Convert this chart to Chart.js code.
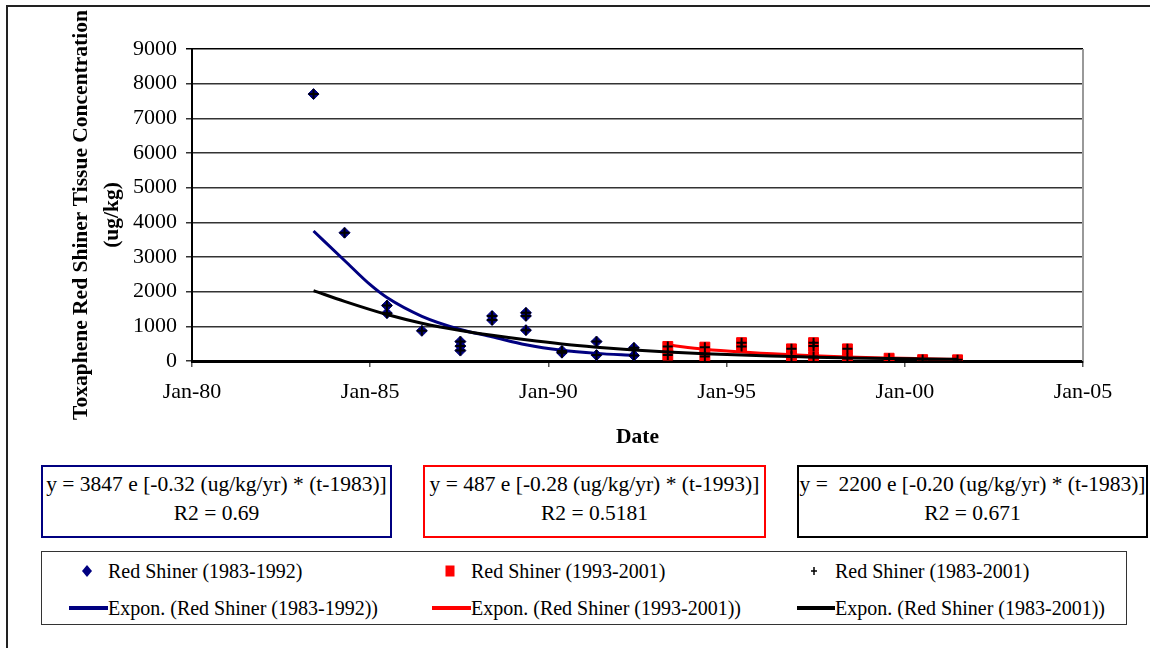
<!DOCTYPE html>
<html>
<head>
<meta charset="utf-8">
<script src="https://cdn.jsdelivr.net/npm/chart.js@4.4.1/dist/chart.umd.min.js"></script>
<style>
  body { margin: 0; background: #fff; font-family: "Liberation Serif", "Times New Roman", serif; }
  #page { position: relative; width: 1150px; height: 648px; overflow: hidden; }
  #frame { position: absolute; left: 6px; top: 5px; width: 1150px; height: 650px;
           border-top: 2px solid #222; border-left: 2px solid #222; }
  #chart { position: absolute; left: 0; top: 0; }
  .eq { position: absolute; top: 465px; height: 66px; text-align: center; font-size: 21.5px;
        line-height: 29px; padding-top: 3px; white-space: pre; color: #000; }
  #legend { position: absolute; left: 41px; top: 551px; width: 1084px; height: 72px;
            border: 1.5px solid #333; }
  .item { position: absolute; font-size: 20px; line-height: 24px; color: #000; white-space: pre; }
  .mk { position: absolute; }
</style>
</head>
<body>
<div id="page">
  <div id="frame"></div>
  <canvas id="chart" width="1150" height="460"></canvas>

  <div class="eq" style="left:41px; width:347px; border:2px solid #000080;">y = 3847 e [-0.32 (ug/kg/yr) * (t-1983)]
R2 = 0.69</div>
  <div class="eq" style="left:423px; width:339px; border:2px solid #ff0000;">y = 487 e [-0.28 (ug/kg/yr) * (t-1993)]
R2 = 0.5181</div>
  <div class="eq" style="left:797px; width:347px; border:2px solid #000;">y =  2200 e [-0.20 (ug/kg/yr) * (t-1983)]
R2 = 0.671</div>

  <div id="legend"></div>
</div>

<script>
// sample dates in decimal years, and measured concentrations (ug/kg)
const blueDates  = [1983.41, 1984.28, 1985.47, 1985.47, 1986.45, 1987.53, 1987.53, 1987.53,
                    1988.42, 1988.42, 1989.37, 1989.37, 1989.37, 1990.38, 1990.38,
                    1991.35, 1991.35, 1992.40, 1992.40];
const blueValues = [7700, 3700, 1600, 1380, 870, 560, 430, 300,
                    1300, 1180, 1390, 1300, 890, 290, 240,
                    560, 170, 380, 160];

const redDates  = [1993.35, 1993.35, 1994.39, 1994.39, 1995.42, 1995.42, 1996.82, 1996.82,
                   1997.44, 1997.44, 1997.44, 1998.39, 1998.39, 1999.56, 2000.50, 2001.48];
const redValues = [420, 170, 400, 130, 530, 420, 350, 140,
                   530, 430, 130, 350, 80, 80, 40, 35];

// trend curves
const blueTrendYears  = [1983.41, 1984.28, 1985.0, 1985.47, 1986.45, 1987.53, 1988.42, 1989.37, 1990.38, 1991.35, 1992.40];
const blueTrendValues = [3750, 2900, 2200, 1830, 1290, 910, 700, 470, 310, 220, 160];

const redTrendYears  = [1993.35, 1994.39, 1995.42, 1996.82, 1997.44, 1998.39, 1999.56, 2000.50, 2001.48];
const redTrendValues = [460, 340, 260, 180, 150, 115, 85, 65, 45];

const blackTrendYears  = [1983.41, 1984.28, 1985.47, 1986.45, 1987.53, 1988.42, 1989.37, 1990.38, 1991.35,
                          1992.40, 1993.35, 1994.39, 1995.42, 1996.82, 1997.44, 1998.39, 1999.56, 2000.50, 2001.48];
const blackTrendValues = [2030, 1720, 1340, 1090, 880, 740, 610, 490, 400,
                          320, 260, 210, 170, 130, 110, 90, 70, 60, 50];

const xTickYears = [1980, 1985, 1990, 1995, 2000, 2005];
const yTicks = [0, 1000, 2000, 3000, 4000, 5000, 6000, 7000, 8000, 9000];

const seriesNames = ["Red Shiner (1983-1992)", "Red Shiner (1993-2001)", "Red Shiner (1983-2001)"];
const yTitle = ["Toxaphene Red Shiner Tissue Concentration", "(ug/kg)"];

const NAVY = "#000080", RED = "#ff0000", BLACK = "#000000";
const FONT = '"Liberation Serif", "Times New Roman", serif';

function pts(xs, ys) {
  return xs.map((x, i) => ({ x: x, y: ys[i] }));
}

Chart.defaults.font.family = FONT;
Chart.defaults.color = "#000";

// right edge of the plot box, and the two-line y title (sits a bit below plot centre)
const plotFrame = {
  id: "plotFrame",
  beforeDatasetsDraw(chart) {
    const a = chart.chartArea, ctx = chart.ctx;
    ctx.save();
    ctx.strokeStyle = "#999";
    ctx.lineWidth = 2;
    ctx.beginPath();
    ctx.moveTo(a.right, a.top);
    ctx.lineTo(a.right, a.bottom);
    ctx.stroke();
    ctx.restore();
  },
  afterDraw(chart) {
    const ctx = chart.ctx;
    ctx.save();
    ctx.fillStyle = "#000";
    ctx.font = "bold 21.5px " + FONT;
    ctx.textAlign = "center";
    ctx.textBaseline = "middle";
    ctx.translate(81, 215);
    ctx.rotate(-Math.PI / 2);
    ctx.fillText(yTitle[0], 0, 0);
    ctx.fillText(yTitle[1], 0, 31);
    ctx.restore();
  }
};

const ctx = document.getElementById("chart").getContext("2d");
new Chart(ctx, {
  type: "scatter",
  data: {
    datasets: [
      {
        label: seriesNames[0],
        data: pts(blueDates, blueValues),
        pointStyle: "rectRot", pointRadius: 5.5,
        backgroundColor: NAVY, borderColor: NAVY, borderWidth: 1,
        order: 6
      },
      {
        label: seriesNames[1],
        data: pts(redDates, redValues),
        pointStyle: "rect", pointRadius: 7,
        backgroundColor: RED, borderColor: RED, borderWidth: 1,
        order: 5
      },
      {
        label: "Expon. (" + seriesNames[0] + ")",
        data: pts(blueTrendYears, blueTrendValues),
        showLine: true, pointRadius: 0, borderColor: NAVY, borderWidth: 3,
        cubicInterpolationMode: "monotone",
        order: 4
      },
      {
        label: "Expon. (" + seriesNames[1] + ")",
        data: pts(redTrendYears, redTrendValues),
        showLine: true, pointRadius: 0, borderColor: RED, borderWidth: 3,
        cubicInterpolationMode: "monotone",
        order: 3
      },
      {
        label: "Expon. (" + seriesNames[2] + ")",
        data: pts(blackTrendYears, blackTrendValues),
        showLine: true, pointRadius: 0, borderColor: BLACK, borderWidth: 3,
        cubicInterpolationMode: "monotone",
        order: 2
      },
      {
        label: seriesNames[2],
        data: pts(blueDates.concat(redDates), blueValues.concat(redValues)),
        pointStyle: "cross", pointRadius: 5,
        borderColor: BLACK, backgroundColor: BLACK, borderWidth: 2,
        order: 1
      }
    ]
  },
  options: {
    responsive: false,
    animation: false,
    layout: { padding: { left: 40, right: 67, top: 49, bottom: 0 } },
    plugins: { legend: { display: false }, tooltip: { enabled: false } },
    scales: {
      x: {
        type: "linear",
        min: xTickYears[0], max: xTickYears[xTickYears.length - 1],
        afterBuildTicks: s => { s.ticks = xTickYears.map(v => ({ value: v })); },
        afterFit: s => { s.height = 99; },
        ticks: {
          callback: v => "Jan-" + String(v).slice(2),
          font: { size: 22 }, padding: 12, maxRotation: 0, autoSkip: false
        },
        grid: { drawOnChartArea: false, tickLength: 6, color: "#555", lineWidth: 1.5 },
        border: { color: "#000", width: 3 },
        title: {
          display: true, text: "Date",
          font: { size: 21.5, weight: "bold" },
          padding: { top: 0, bottom: 10 }
        }
      },
      y: {
        min: 0, max: 9000,
        afterBuildTicks: s => { s.ticks = yTicks.map(v => ({ value: v })); },
        afterFit: s => { s.width = 152; },
        ticks: { callback: v => String(v), font: { size: 22 }, padding: 9 },
        grid: {
          color: c => (c.tick && c.tick.value === 9000 ? "#000" : "#333"),
          lineWidth: 1.5, tickLength: 6
        },
        border: { color: "#000", width: 2 },
        title: { display: false }
      }
    }
  },
  plugins: [plotFrame]
});

// legend below the equations, 3 columns x 2 rows
const legendItems = [
  { text: seriesNames[0], mark: "diamond", color: NAVY, x: 0 },
  { text: seriesNames[1], mark: "square", color: RED, x: 1 },
  { text: seriesNames[2], mark: "plus", color: BLACK, x: 2 },
  { text: "Expon. (" + seriesNames[0] + ")", mark: "line", color: NAVY, x: 0 },
  { text: "Expon. (" + seriesNames[1] + ")", mark: "line", color: RED, x: 1 },
  { text: "Expon. (" + seriesNames[2] + ")", mark: "line", color: BLACK, x: 2 }
];
const colText = [108, 471, 835];
const colMark = [87, 450, 814];
const colLine = [69, 432, 797];
const rowY = [571, 608];
const page = document.getElementById("page");
legendItems.forEach((it, i) => {
  const row = i < 3 ? 0 : 1;
  const t = document.createElement("div");
  t.className = "item";
  t.textContent = it.text;
  t.style.left = colText[it.x] + "px";
  t.style.top = (rowY[row] - 12) + "px";
  page.appendChild(t);

  const svgNS = "http://www.w3.org/2000/svg";
  const svg = document.createElementNS(svgNS, "svg");
  svg.setAttribute("class", "mk");
  let w, h, cx;
  if (it.mark === "line") { w = colText[it.x] - colLine[it.x]; h = 6; cx = colLine[it.x]; }
  else { w = 14; h = 16; cx = colMark[it.x] - 7; }
  svg.setAttribute("width", w);
  svg.setAttribute("height", h);
  svg.style.left = cx + "px";
  svg.style.top = (rowY[row] - h / 2) + "px";
  let shape;
  if (it.mark === "diamond") {
    shape = document.createElementNS(svgNS, "polygon");
    shape.setAttribute("points", "7,2 12,8 7,14 2,8");
    shape.setAttribute("fill", it.color);
  } else if (it.mark === "square") {
    shape = document.createElementNS(svgNS, "rect");
    shape.setAttribute("x", 2.5); shape.setAttribute("y", 2.5);
    shape.setAttribute("width", 9); shape.setAttribute("height", 11);
    shape.setAttribute("fill", it.color);
  } else if (it.mark === "plus") {
    shape = document.createElementNS(svgNS, "path");
    shape.setAttribute("d", "M7,4 L7,12 M4,8 L10,8");
    shape.setAttribute("stroke", it.color);
    shape.setAttribute("stroke-width", 1.5);
  } else {
    shape = document.createElementNS(svgNS, "line");
    shape.setAttribute("x1", 0); shape.setAttribute("x2", w);
    shape.setAttribute("y1", 3); shape.setAttribute("y2", 3);
    shape.setAttribute("stroke", it.color);
    shape.setAttribute("stroke-width", 4);
  }
  svg.appendChild(shape);
  page.appendChild(svg);
});
</script>
</body>
</html>
